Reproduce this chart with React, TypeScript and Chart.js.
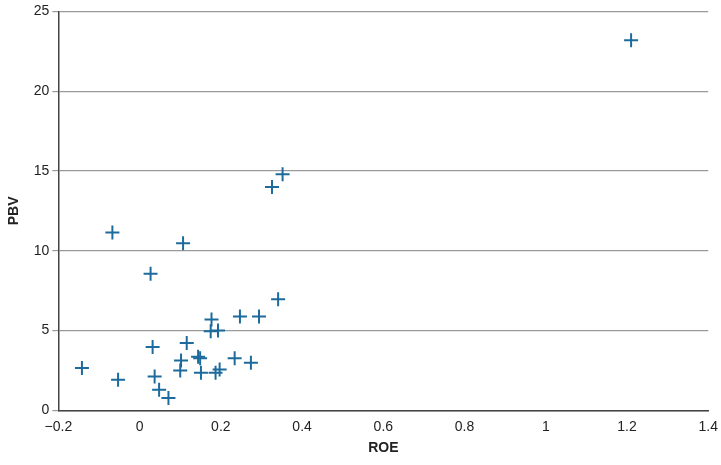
import React, { useEffect, useRef } from "react";
import { Chart, registerables } from "chart.js";
Chart.register(...registerables);

const roe = [-0.142, -0.053, -0.067, 0.027, 0.107, 0.032, 0.037, 0.048, 0.071, 0.102, 0.1, 0.116, 0.144, 0.149, 0.151, 0.177, 0.175, 0.193, 0.187, 0.197, 0.234, 0.247, 0.294, 0.274, 0.341, 0.326, 0.352, 1.21];
const pbv = [2.65, 1.92, 11.15, 8.56, 10.48, 3.98, 2.13, 1.29, 0.77, 3.13, 2.5, 4.23, 3.36, 3.27, 2.36, 5.69, 4.96, 5.0, 2.36, 2.56, 3.27, 5.88, 5.88, 2.98, 6.96, 14.0, 14.8, 23.2];

export default function App() {
  const ref = useRef<HTMLCanvasElement>(null);
  useEffect(() => {
    const font = { family: "'Liberation Sans', Arial, sans-serif", size: 14 };
    const chart = new Chart(ref.current!, {
      type: "scatter",
      data: {
        datasets: [{
          data: roe.map((x, i) => ({ x, y: pbv[i] })),
          pointStyle: "cross",
          pointRadius: 7,
          borderColor: "#1d6b9c",
          borderWidth: 2,
          backgroundColor: "#1d6b9c",
        }],
      },
      options: {
        animation: false,
        responsive: false,
        layout: { padding: { right: 12, top: 0, left: 2, bottom: 4 } },
        plugins: { legend: { display: false }, tooltip: { enabled: false } },
        scales: {
          x: {
            min: -0.2, max: 1.4,
            ticks: { stepSize: 0.2, color: "#222", font, callback: (v: any) => { const n = Math.round(Number(v) * 10) / 10; return n < 0 ? "\u2212" + Math.abs(n) : String(n); } },
            grid: { display: false, drawTicks: true, tickLength: 5 },
            border: { color: "#444", width: 1.5 },
            title: { display: true, text: "ROE", color: "#222", font: { ...font, weight: "bold" }, padding: { top: 2 } },
          },
          y: {
            min: 0, max: 25,
            ticks: { stepSize: 5, color: "#222", font },
            grid: { color: "#9a9a9a", lineWidth: 1.2, tickLength: 6 },
            border: { color: "#444", width: 1.5 },
            title: { display: true, text: "PBV", color: "#222", font: { ...font, weight: "bold" }, padding: { bottom: 8 } },
          },
        },
      },
    });
    return () => chart.destroy();
  }, []);
  return <canvas ref={ref} width={721} height={465} style={{ position: "absolute", left: 0, top: 0 }} />;
}
